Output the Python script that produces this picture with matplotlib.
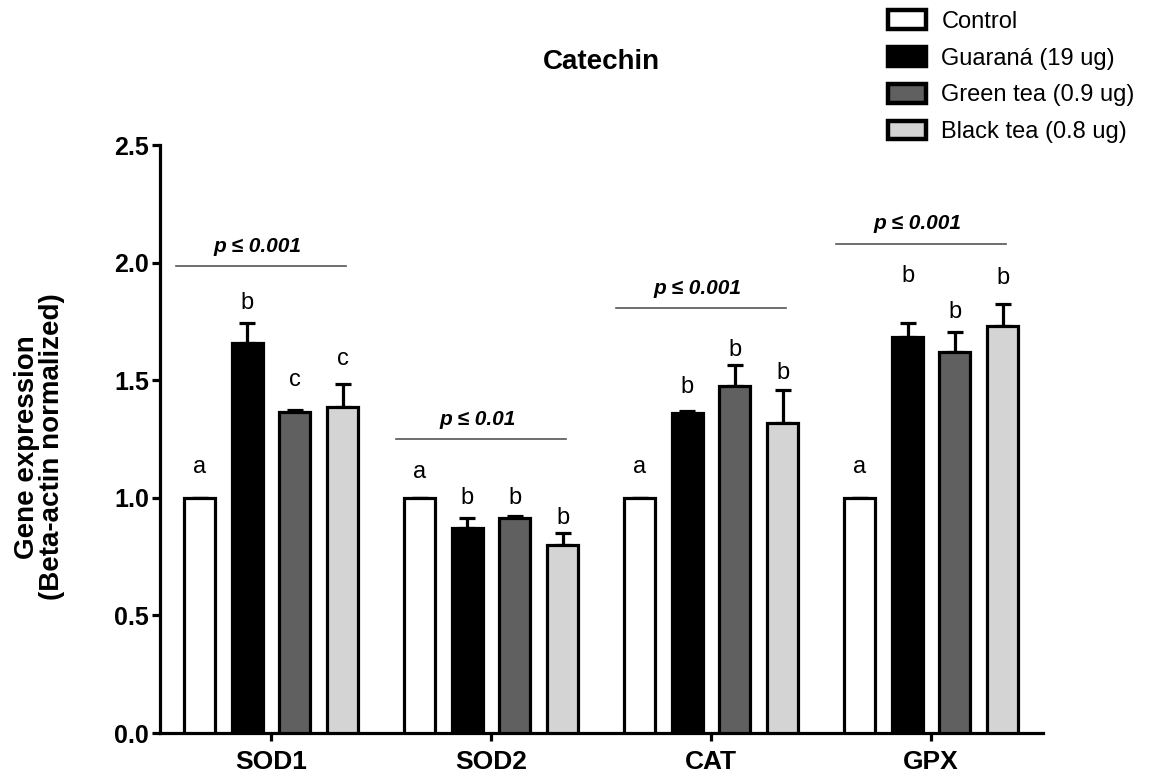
import matplotlib.pyplot as plt
import matplotlib.patches as patches
import numpy as np

genes = ["SOD1", "SOD2", "CAT", "GPX"]
groups = ["Control", "Guaraná (19 ug)", "Green tea (0.9 ug)", "Black tea (0.8 ug)"]
colors = ["white", "black", "#606060", "#d4d4d4"]

# means per group for each gene
control = [1.0, 1.0, 1.0, 1.0]
guarana = [1.66, 0.87, 1.36, 1.685]
green_tea = [1.365, 0.915, 1.475, 1.62]
black_tea = [1.385, 0.80, 1.32, 1.73]

# upper SEM
control_err = [0, 0, 0, 0]
guarana_err = [0.085, 0.046, 0.01, 0.06]
green_err = [0.01, 0.008, 0.09, 0.085]
black_err = [0.098, 0.05, 0.14, 0.094]

# significance letters and their heights
letters = [["a", "b", "c", "c"],
           ["a", "b", "b", "b"],
           ["a", "b", "b", "b"],
           ["a", "b", "b", "b"]]
letter_y = [[1.13, 1.83, 1.50, 1.59],
            [1.11, 1.00, 1.00, 0.915],
            [1.13, 1.47, 1.63, 1.53],
            [1.13, 1.945, 1.79, 1.935]]

p_text = ["p \u2264 0.001", "p \u2264 0.01", "p \u2264 0.001", "p \u2264 0.001"]
p_line_y = [1.985, 1.25, 1.807, 2.08]

means = [control, guarana, green_tea, black_tea]
errs = [control_err, guarana_err, green_err, black_err]

plt.rcParams['font.family'] = ['Liberation Sans', 'DejaVu Sans']

fig = plt.figure(figsize=(11.57, 7.76), dpi=100)
ax = fig.add_axes([0.1383, 0.0554, 0.7632, 0.7577])

x = np.arange(len(genes))
offsets = [-0.325, -0.107, 0.107, 0.325]
width = 0.138

for i in range(len(groups)):
    ax.bar(x + offsets[i], means[i], width, color=colors[i], edgecolor="black",
           linewidth=2.3, zorder=3, label=groups[i])
    ax.errorbar(x + offsets[i], means[i], yerr=[np.zeros(len(genes)), errs[i]],
                fmt="none", ecolor="black", elinewidth=2.3, capsize=5.5,
                capthick=2.3, zorder=2)
    for j in range(len(genes)):
        ax.text(x[j] + offsets[i], letter_y[j][i], letters[j][i], ha="center",
                va="center", fontsize=17)

for j in range(len(genes)):
    ax.plot([x[j] - 0.43, x[j] + 0.34], [p_line_y[j]] * 2, color="#555555",
            lw=1.2, clip_on=False)
    ax.text(x[j] - 0.06, p_line_y[j] + 0.085, p_text[j], ha="center", va="center",
            fontsize=15, fontweight="bold", fontstyle="italic")

ax.set_xlim(-0.5045, 3.509)
ax.set_ylim(0, 2.5)
ax.set_yticks([0, 0.5, 1.0, 1.5, 2.0, 2.5])
ax.set_yticklabels(["0.0", "0.5", "1.0", "1.5", "2.0", "2.5"])
ax.set_xticks(x)
ax.set_xticklabels(genes)
for lab in ax.get_yticklabels():
    lab.set_fontweight("bold")
    lab.set_fontsize(18)
for lab in ax.get_xticklabels():
    lab.set_fontweight("bold")
    lab.set_fontsize(19)
ax.tick_params(axis="both", width=2.3, length=6, direction="out")
ax.tick_params(axis="x", pad=6)
ax.tick_params(axis="y", pad=2)
for side in ["top", "right"]:
    ax.spines[side].set_visible(False)
for side in ["left", "bottom"]:
    ax.spines[side].set_linewidth(2.3)

fig.text(40 / 1157, 1 - 447 / 776, "Gene expression\n(Beta-actin normalized)",
         rotation=90, ha="center", va="center", fontsize=20, fontweight="bold",
         multialignment="center", linespacing=0.95)
fig.text(601 / 1157, 1 - 62 / 776, "Catechin", ha="center", va="center",
         fontsize=20, fontweight="bold")

handles = [patches.Patch(facecolor=c, edgecolor="black", linewidth=3.2) for c in colors]
fig.legend(handles, groups, loc="upper left", bbox_to_anchor=(867 / 1157, 1.014),
           frameon=False, fontsize=17, handlelength=1.6, handleheight=0.85,
           labelspacing=0.6, handletextpad=0.65)

fig.savefig("out.png", dpi=100)
